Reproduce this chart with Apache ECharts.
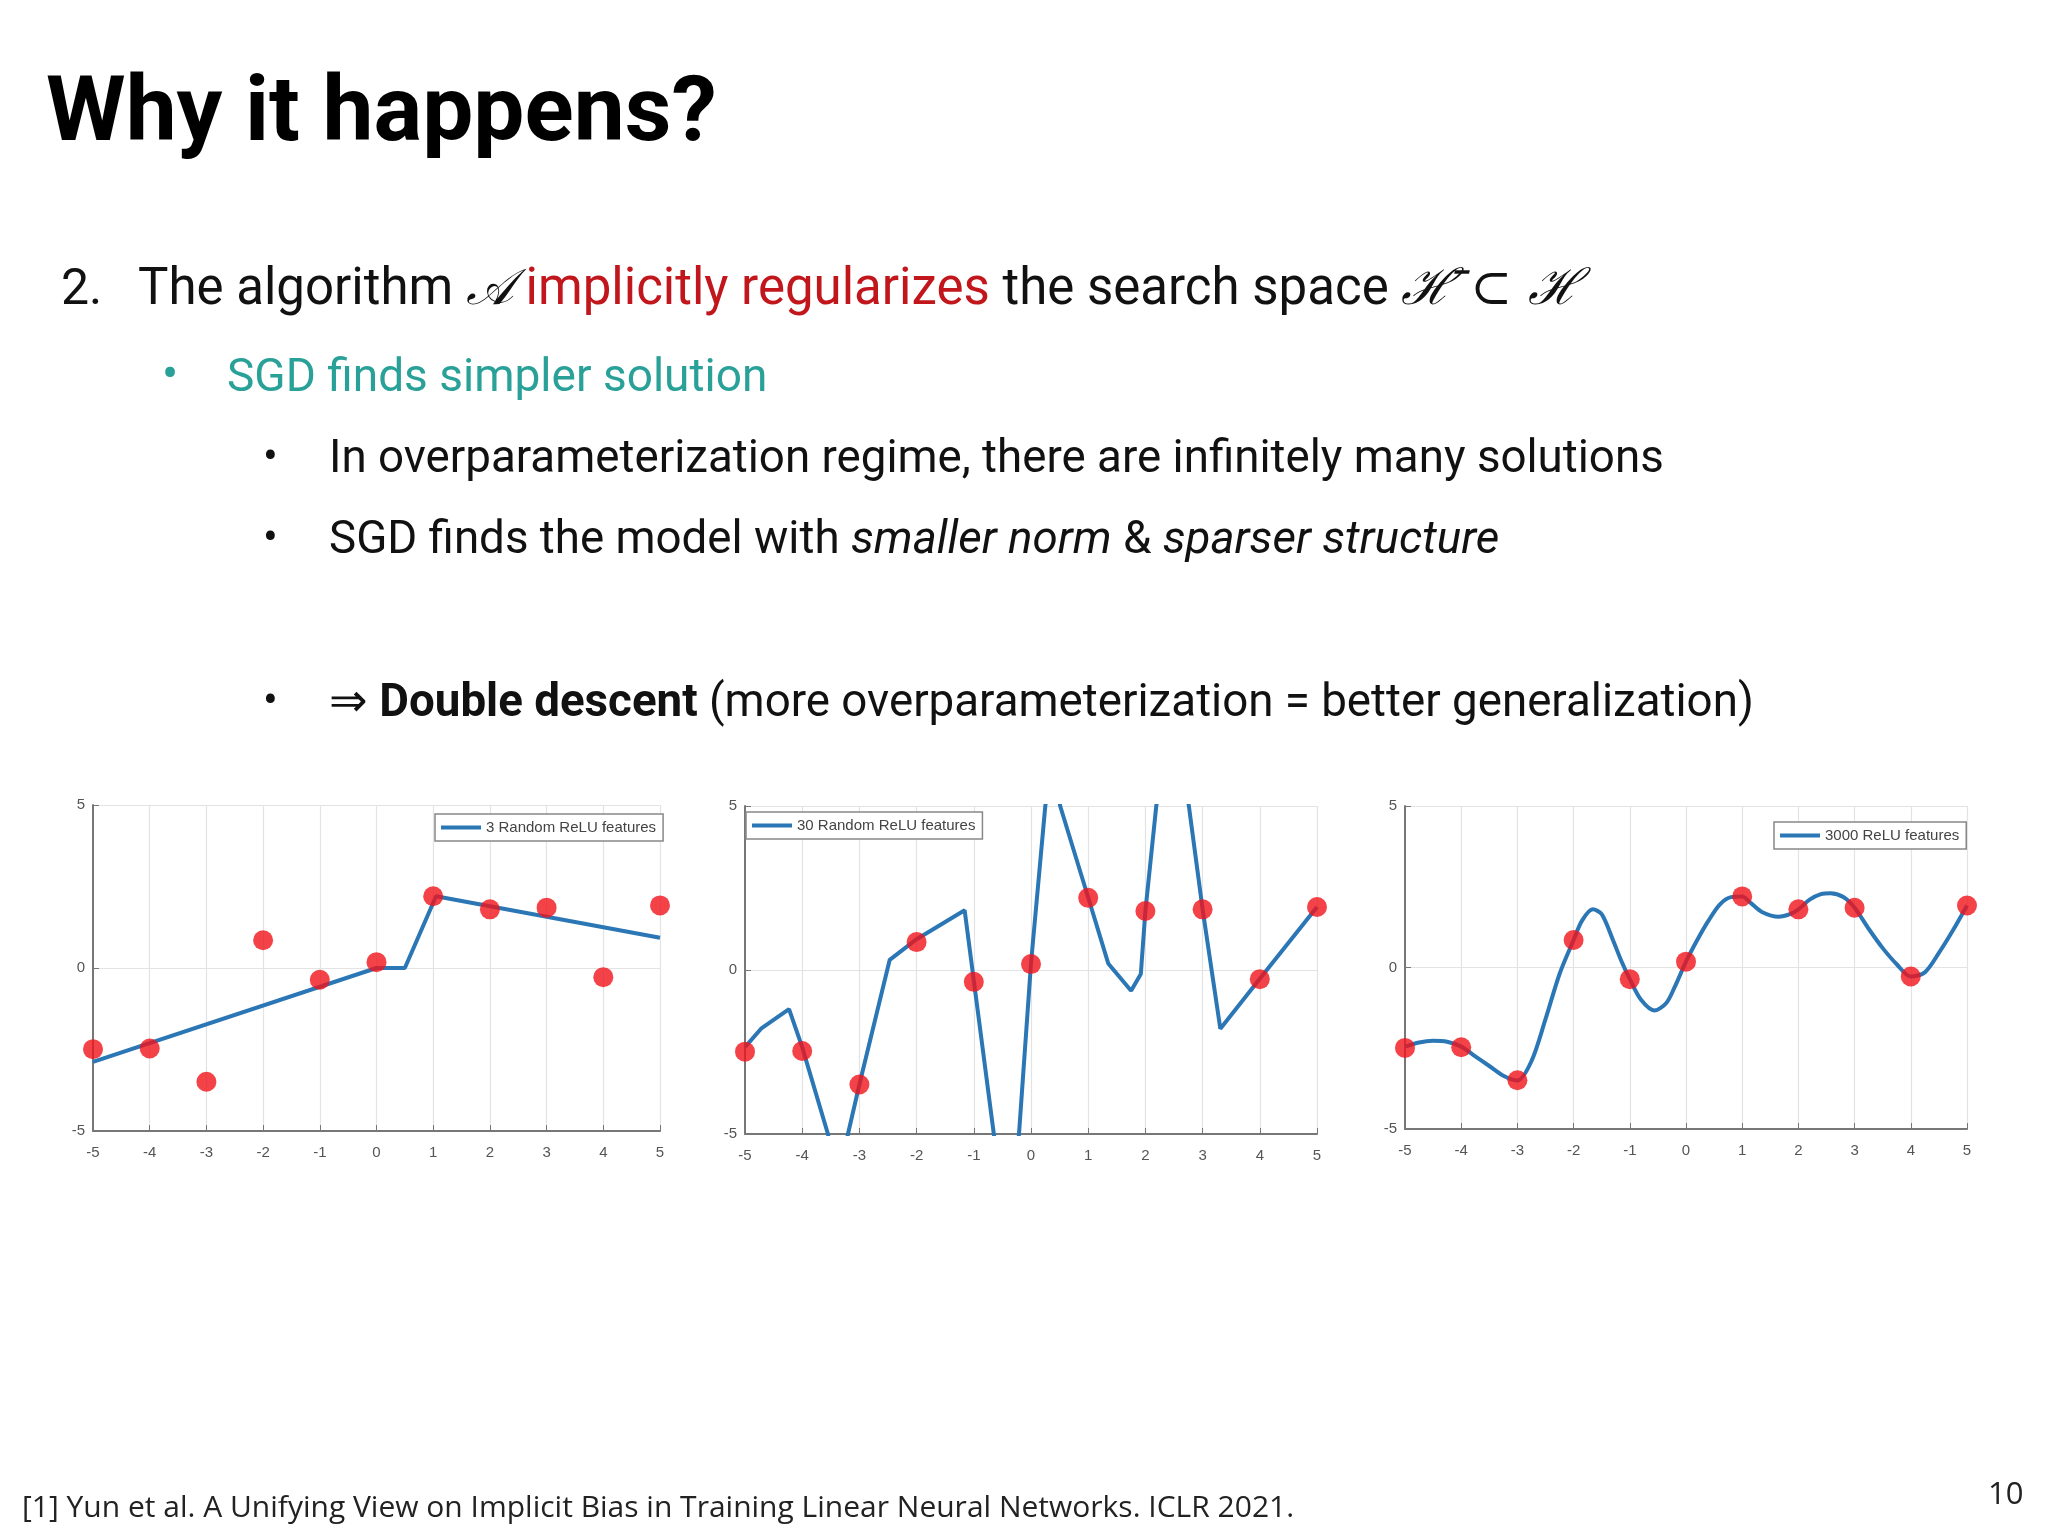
<!DOCTYPE html>
<html><head><meta charset="utf-8">
<script src="https://cdn.jsdelivr.net/npm/echarts@6/dist/echarts.min.js"></script>
<style>html,body{margin:0;background:#fff}#c{width:2048px;height:1536px}</style>
</head><body><div id="c"></div>
<script>
const xTicks = [-5,-4,-3,-2,-1,0,1,2,3,4,5];
const pointsY = [-2.49,-2.47,-3.49,0.85,-0.36,0.18,2.2,1.8,1.85,-0.28,1.92];
const fit3 = [[-5,-2.88],[0,0],[0.5,0],[1.05,2.2],[5,0.93]];
const fit30 = [[-5,-2.35],[-4.72,-1.79],[-4.23,-1.19],[-4,-2.35],[-3.55,-5],[-3.45,-6],[-3.3,-6],[-3.2,-5],[-3,-3.49],[-2.47,0.31],[-2,0.94],[-1.16,1.82],[-1,-0.32],[-0.65,-5],[-0.5,-7],[-0.3,-7],[-0.21,-5],[0,0.2],[0.25,5],[0.38,6.5],[0.51,5],[1,2.21],[1.35,0.2],[1.75,-0.63],[1.92,-0.12],[2,1.8],[2.19,5],[2.47,8],[2.76,5],[3,1.85],[3.31,-1.79],[4,-0.27],[5,1.92]];
const fit3000 = [[-5,-2.45],[-4.75,-2.32],[-4.5,-2.27],[-4.25,-2.3],[-4,-2.45],[-3.75,-2.75],[-3.5,-3.05],[-3.25,-3.35],[-3,-3.5],[-2.75,-2.9],[-2.5,-1.6],[-2.25,-0.2],[-2,0.85],[-1.85,1.45],[-1.66,1.8],[-1.5,1.65],[-1.3,0.85],[-1.15,0.2],[-1,-0.36],[-0.8,-1.0],[-0.56,-1.33],[-0.35,-1.1],[-0.2,-0.6],[0,0.18],[0.2,0.85],[0.4,1.45],[0.6,1.95],[0.8,2.18],[1,2.2],[1.15,2.0],[1.35,1.72],[1.65,1.57],[1.85,1.65],[2,1.8],[2.2,2.1],[2.4,2.27],[2.57,2.3],[2.8,2.18],[3,1.85],[3.25,1.2],[3.5,0.6],[3.75,0.1],[4,-0.28],[4.25,-0.15],[4.5,0.45],[4.75,1.15],[5,1.92]];
const legendNames = ['3 Random ReLU features','30 Random ReLU features','3000 ReLU features'];

const grids = [
  {left:93, top:805, width:567, height:326},
  {left:745, top:806, width:572, height:328},
  {left:1405, top:806, width:562, height:323}
];
const legendPos = [
  {left:435, top:814},
  {left:746, top:812},
  {left:1774, top:822}
];
const fits = [fit3, fit30, fit3000];
const axisCommon = {
  type:'value', min:-5, max:5,
  axisLine:{show:true, onZero:false, lineStyle:{color:'#777', width:2}},
  axisTick:{show:true, inside:true, length:6, lineStyle:{color:'#777'}},
  splitLine:{show:true, lineStyle:{color:'#e3e3e3', width:1.2}},
  axisLabel:{color:'#555', fontSize:15, fontFamily:'Liberation Sans'}
};
const xAxis=[], yAxis=[], series=[], legend=[];
grids.forEach((g,i)=>{
  xAxis.push(Object.assign({}, axisCommon, {gridIndex:i, interval:1,
    axisLabel:Object.assign({}, axisCommon.axisLabel,{margin:14})}));
  yAxis.push(Object.assign({}, axisCommon, {gridIndex:i, interval:5,
    axisLabel:Object.assign({}, axisCommon.axisLabel,{margin:8})}));
  series.push({name:legendNames[i], type:'line', xAxisIndex:i, yAxisIndex:i, data:fits[i],
    showSymbol:false, smooth: i===2 ? 0.3 : false, clip:true,
    lineStyle:{color:'#2b76b5', width:4}, itemStyle:{color:'#2b76b5'}, z:2});
  series.push({name:'pts'+i, type:'scatter', xAxisIndex:i, yAxisIndex:i,
    data:xTicks.map((x,k)=>[x,pointsY[k]]), symbolSize:20,
    itemStyle:{color:'#f0141a'}, z:3});
  legend.push(Object.assign({data:[legendNames[i]], orient:'vertical',
    borderColor:'#888', borderWidth:1.5, backgroundColor:'#fff', padding:[6,7,6,6],
    itemWidth:40, itemHeight:4, itemGap:0, icon:'rect',
    textStyle:{color:'#444', fontSize:15, fontFamily:'Liberation Sans'}}, legendPos[i]));
});

const graphic = [
  {type:'text', left:46, top:72, style:{text:'Why it happens?', font:'bold 91px Roboto', fill:'#000'}},
  {type:'text', left:61, top:266, style:{text:'{n|2.}', rich:{n:{font:'50px Roboto', fill:'#111'}}}},
  {type:'text', left:138, top:266, style:{
    text:'{a|The algorithm }{m|𝒜}{r| implicitly regularizes}{a| the search space }{m|ℋ̄ ⊂ ℋ}',
    rich:{a:{font:'51px Roboto', fill:'#111'}, r:{font:'51px Roboto', fill:'#c0161c'},
          m:{font:'italic 50px "DejaVu Serif"', fill:'#111'}}}},
  {type:'text', left:162, top:354, style:{text:'•', font:'48px Roboto', fill:'#2aa198'}},
  {type:'text', left:227, top:356, style:{text:'SGD finds simpler solution', font:'46px Roboto', fill:'#2aa198'}},
  {type:'text', left:263, top:438, style:{text:'•', font:'44px Roboto', fill:'#111'}},
  {type:'text', left:329, top:438, style:{text:'In overparameterization regime, there are infinitely many solutions', font:'45.7px Roboto', fill:'#111'}},
  {type:'text', left:263, top:519, style:{text:'•', font:'44px Roboto', fill:'#111'}},
  {type:'text', left:329, top:519, style:{text:'{a|SGD finds the model with }{i|smaller norm}{a| & }{i|sparser structure}',
    rich:{a:{font:'45.7px Roboto', fill:'#111'}, i:{font:'italic 45.7px Roboto', fill:'#111'}}}},
  {type:'text', left:263, top:682, style:{text:'•', font:'44px Roboto', fill:'#111'}},
  {type:'text', left:329, top:682, style:{text:'{a|⇒ }{b|Double descent}{a| (more overparameterization = better generalization)}',
    rich:{a:{font:'45.7px Roboto', fill:'#111'}, b:{font:'bold 45.7px Roboto', fill:'#111'}}}},
  {type:'text', left:22, top:1493, style:{text:'[1] Yun et al. A Unifying View on Implicit Bias in Training Linear Neural Networks. ICLR 2021.', font:'30px "Open Sans"', fill:'#222'}},
  {type:'text', left:1988, top:1480, style:{text:'10', font:'31px "Open Sans"', fill:'#222'}}
];

const chart = echarts.init(document.getElementById('c'));
chart.setOption({animation:false, backgroundColor:'#fff', grid:grids, xAxis, yAxis, series, legend, graphic});
</script></body></html>
